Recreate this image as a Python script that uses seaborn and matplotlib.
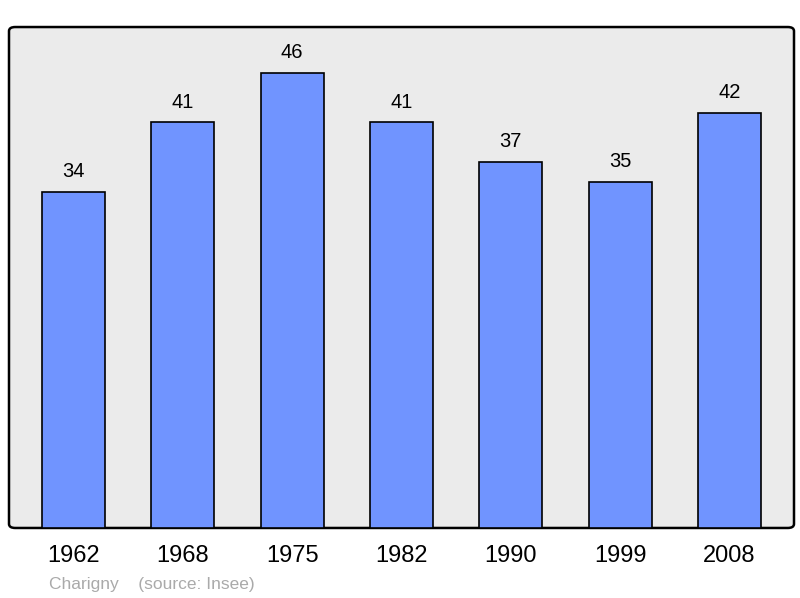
import pandas as pd
import matplotlib.pyplot as plt
import seaborn as sns
from matplotlib.patches import FancyBboxPatch

years = ['1962', '1968', '1975', '1982', '1990', '1999', '2008']
population = [34, 41, 46, 41, 37, 35, 42]

df = pd.DataFrame({'Year': years, 'Population': population})

plt.rcParams['font.family'] = ['Liberation Sans', 'DejaVu Sans']

fig = plt.figure(figsize=(8, 5.98), dpi=100)
ax = fig.add_axes([0.01125, 0.1171, 0.98125, 0.8377])

sns.barplot(data=df, x='Year', y='Population', color='#7094ff', saturation=1,
            width=0.576, edgecolor='black', linewidth=1.2, ax=ax, zorder=2)

ax.set_xlim(-0.59, 6.59)
ax.set_ylim(0, 50.65)
ax.set_facecolor('none')

# rounded frame
frame = FancyBboxPatch((0, 0), 1, 1, boxstyle='round,pad=0,rounding_size=0.008',
                       transform=ax.transAxes, facecolor='#ebebeb', edgecolor='black',
                       linewidth=1.8, zorder=0, clip_on=False)
ax.add_patch(frame)
for s in ax.spines.values():
    s.set_visible(False)

for i, v in enumerate(population):
    ax.annotate(str(v), (i, v), xytext=(0, 14.5), textcoords='offset points',
                ha='center', va='center', fontsize=14.5)

ax.set_yticks([])
ax.tick_params(axis='x', length=0, labelsize=17, pad=12)
ax.set_xlabel('')
ax.set_ylabel('')

fig.text(49 / 800, 1 - 584 / 598, 'Charigny    (source: Insee)', fontsize=12.5,
         color='#aaaaaa', ha='left', va='center')

plt.savefig('out.png', dpi=100)
